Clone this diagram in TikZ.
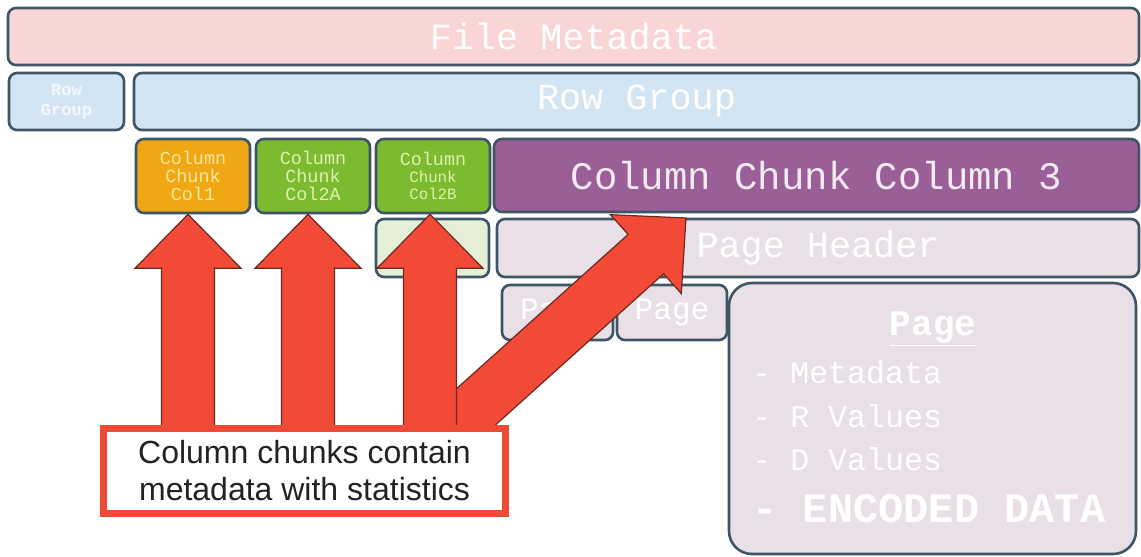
\documentclass[tikz,border=0pt]{standalone}
\usepackage{fontspec}
\setmainfont{Liberation Sans}
\newfontfamily\mono{Liberation Mono}
\usetikzlibrary{calc}
\definecolor{bordc}{HTML}{3E5566}
\definecolor{pinkf}{HTML}{F9D6D5}
\definecolor{bluef}{HTML}{D3E5F3}
\definecolor{orangef}{HTML}{EFA814}
\definecolor{greenf}{HTML}{7CBA30}
\definecolor{purplef}{HTML}{9B5F97}
\definecolor{lgreenf}{HTML}{E5EED6}
\definecolor{lavf}{HTML}{E9E0E7}
\definecolor{arrowred}{HTML}{F24A36}
\definecolor{arrowline}{HTML}{6B2A20}
\definecolor{calloutred}{HTML}{EE4A35}
\definecolor{orangetxt}{HTML}{F7E7A0}
\definecolor{greentxt}{HTML}{DDF2AE}
\definecolor{purpletxt}{HTML}{F3E9F2}
\definecolor{darktxt}{HTML}{222222}
\definecolor{paletxt}{HTML}{F4F8FC}
\tikzset{
  box/.style={draw=bordc, line width=1.3pt, rounded corners=4pt, inner sep=0pt, text=white, align=center},
  callout/.style={draw=calloutred, line width=3.5pt, fill=white, inner sep=0pt, align=center, text=darktxt,
    font=\fontsize{16}{18.5}\selectfont},
  fatarrow/.style={fill=arrowred, draw=arrowline, line width=0.6pt, line join=miter},
}
\newcommand{\fatarrowdraw}[2]{%
  \coordinate (hb) at ($(#2)!27pt!(#1)$);
  \path[fatarrow] (#2) -- ($(hb)!26.5pt!90:(#2)$) -- ($(hb)!13.25pt!90:(#2)$)
    -- ($(#1)!13.25pt!90:(#2)$) -- ($(#1)!13.25pt!-90:(#2)$)
    -- ($(hb)!13.25pt!-90:(#2)$) -- ($(hb)!26.5pt!-90:(#2)$) -- cycle;
}
\begin{document}
\begin{tikzpicture}[x=0.5pt, y=-0.5pt]
\useasboundingbox (0,0) rectangle (1141,557);
\fill[white] (0,0) rectangle (1141,557);
% top rows
\node[box, fill=pinkf, minimum width=565.5pt, minimum height=28.5pt,
  font=\mono\fontsize{18.4}{20}\selectfont] (fm) at (573.5,36.5) {File Metadata};
\node[box, fill=bluef, text=paletxt, minimum width=57.5pt, minimum height=28.5pt,
  font=\mono\bfseries\fontsize{8.5}{10}\selectfont] (rgs) at (66.5,101.5) {Row\\Group};
\node[box, fill=bluef, minimum width=502.5pt, minimum height=28.5pt,
  font=\mono\fontsize{18.4}{20}\selectfont] (rg) at (636.5,101.5) {Row Group};
% column chunks
\node[box, fill=orangef, text=orangetxt, minimum width=57pt, minimum height=37pt,
  font=\mono\fontsize{9.2}{9}\selectfont] (c1) at (193,176) {Column\\Chunk\\Col1};
\node[box, fill=greenf, text=greentxt, minimum width=57pt, minimum height=37pt,
  font=\mono\fontsize{9.2}{9}\selectfont] (c2a) at (313,176) {Column\\Chunk\\Col2A};
\node[box, fill=greenf, text=greentxt, minimum width=57pt, minimum height=37pt,
  font=\mono\fontsize{9.2}{8.5}\selectfont] (c2b) at (433,176) {Column\\{\fontsize{7.9}{8.5}\selectfont Chunk}\\{\fontsize{7.9}{8.5}\selectfont Col2B}};
\node[box, fill=purplef, text=purpletxt, minimum width=322.5pt, minimum height=36.5pt,
  font=\mono\fontsize{19.5}{20}\selectfont] (c3) at (816.5,175.5) {Column Chunk Column 3};
% pages
\node[box, fill=lgreenf, minimum width=56.5pt, minimum height=29pt] (lg) at (432.5,248) {};
\node[box, fill=lavf, minimum width=321pt, minimum height=29pt,
  font=\mono\fontsize{18.4}{20}\selectfont] (ph) at (818,248) {Page Header};
\node[box, fill=lavf, minimum width=55.5pt, minimum height=27.5pt,
  font=\mono\fontsize{15.6}{18}\selectfont] (p1) at (557.5,312.5) {Page};
\node[box, fill=lavf, minimum width=55pt, minimum height=27.5pt,
  font=\mono\fontsize{15.6}{18}\selectfont] (p2) at (672,312.5) {Page};
\node[box, fill=lavf, rounded corners=11.5pt, minimum width=203.5pt, minimum height=135.5pt] (big) at (932.5,418.5) {};
\node[anchor=base, text=white, inner sep=0pt, font=\mono\bfseries\fontsize{18}{20}\selectfont] (pt) at (933,335) {\underline{Page}};
\node[anchor=base west, text=white, inner sep=0pt, font=\mono\fontsize{15.8}{18}\selectfont] (m1) at (752,383) {- Metadata};
\node[anchor=base west, text=white, inner sep=0pt, font=\mono\fontsize{15.8}{18}\selectfont] (m2) at (752,427) {- R Values};
\node[anchor=base west, text=white, inner sep=0pt, font=\mono\fontsize{15.8}{18}\selectfont] (m3) at (752,470) {- D Values};
\node[anchor=base west, text=white, inner sep=0pt, font=\mono\bfseries\fontsize{21}{22}\selectfont] (m4) at (752,522) {- ENCODED DATA};
% arrows (diagonal first, behind the vertical ones)
\coordinate (s1) at (188,440);
\coordinate (s2) at (308,440);
\coordinate (s3) at (430,440);
\coordinate (s4) at (448,432);
\coordinate (t1) at ($(c1.south)+(-5,0)$);
\coordinate (t2) at ($(c2a.south)+(-5,0)$);
\coordinate (t3) at ($(c2b.south)+(-3,0)$);
\coordinate (t4) at (686,218);
\fatarrowdraw{s4}{t4}
\fatarrowdraw{s1}{t1}
\fatarrowdraw{s2}{t2}
\fatarrowdraw{s3}{t3}
% callout
\node[callout, minimum width=201pt, minimum height=42.5pt] (co) at (304.5,471)
  {Column chunks contain\\metadata with statistics};
\end{tikzpicture}
\end{document}
